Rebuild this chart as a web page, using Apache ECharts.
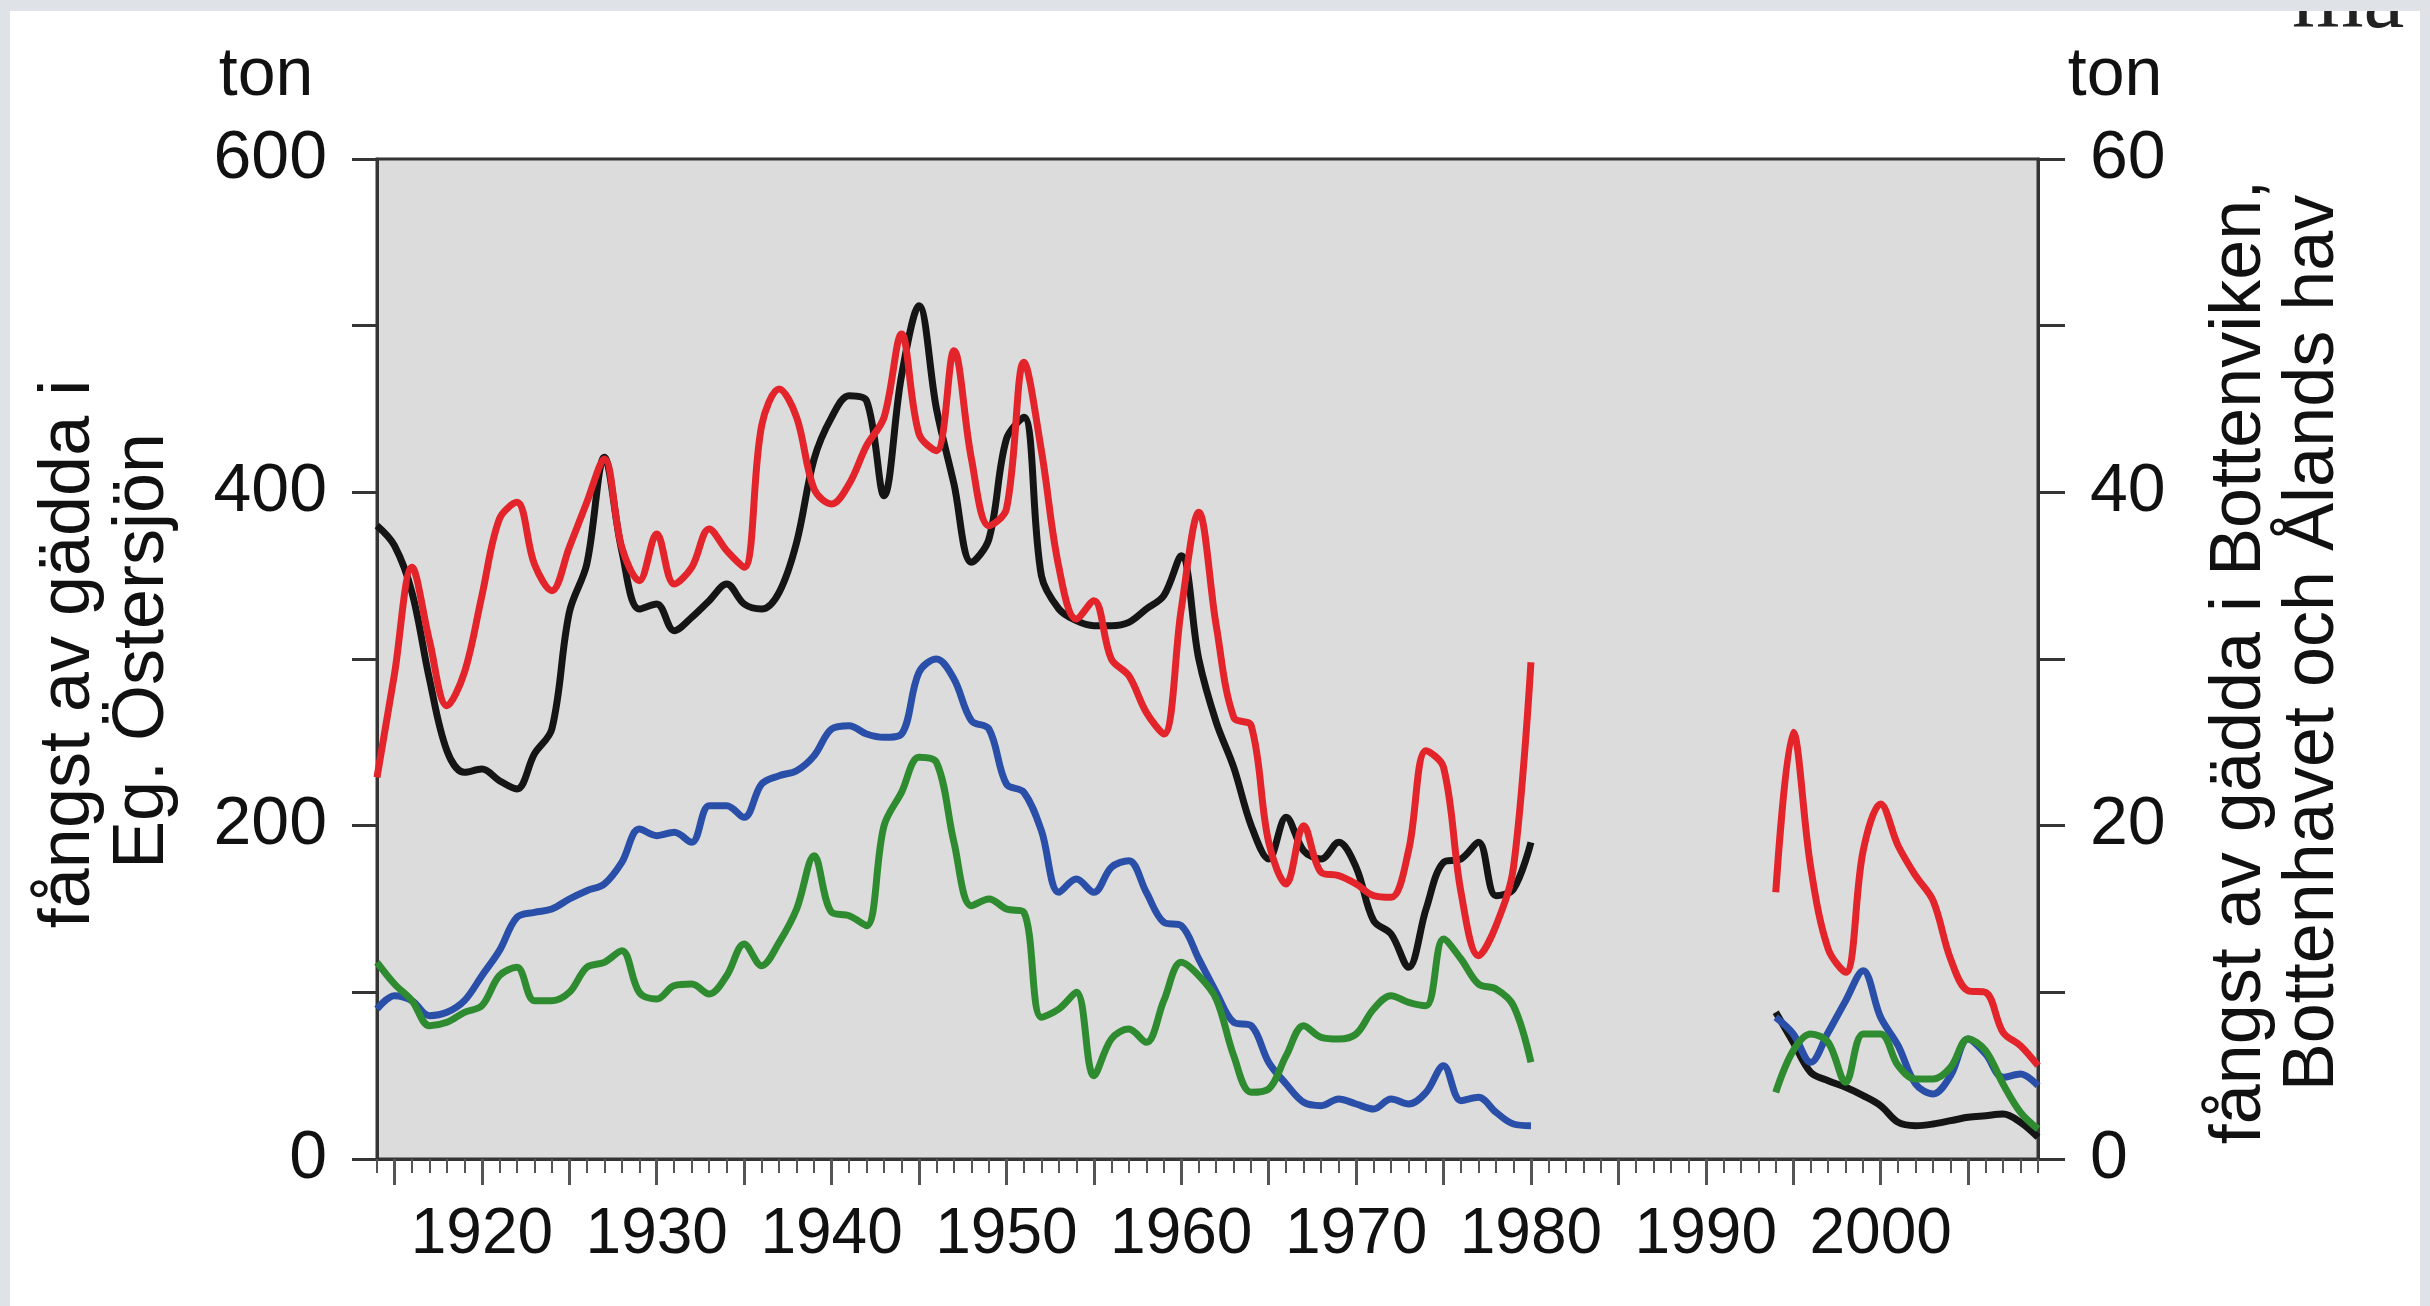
<!DOCTYPE html>
<html>
<head>
<meta charset="utf-8">
<script src="https://cdn.jsdelivr.net/npm/echarts@6/dist/echarts.min.js"></script>
<style>
  html, body { margin: 0; padding: 0; width: 2430px; height: 1306px; overflow: hidden; background: #dfe2e7; }
  #panel { position: absolute; left: 10px; top: 11px; width: 2410px; height: 1295px; background: #fff; }
  #chart { width: 2410px; height: 1295px; }
</style>
</head>
<body>
<div id="panel"><div id="chart"></div></div>
<script>
  // fångst per år, 1914-1980 och 1994-2009
  const earlyStart = 1914;
  const lateStart = 1994;

  // Eg. Östersjön (vänster axel, ton)
  const blackEarly = [380, 368, 340, 288, 245, 232, 234, 227, 222, 243, 258, 328, 357, 421, 365, 330, 333,
    317, 325, 335, 345, 333, 330, 340, 370, 420, 445, 458, 455, 398, 470, 512, 450,
    405, 358, 372, 432, 445, 350, 330, 323, 320, 320, 322, 330, 338, 362, 300, 262,
    235, 200, 180, 205, 185, 180, 190, 175, 143, 135, 115, 150, 178, 180, 190, 158, 162, 190];
  const blackLate = [88, 70, 52, 47, 43, 38, 32, 22, 20, 21, 23, 25, 26, 27, 22, 13];

  // Bottenviken, Bottenhavet, Ålands hav (höger axel, ton)
  const redEarly = [22.9, 29.1, 35.5, 31.1, 27.2, 29.2, 33.8, 38.4, 39.4, 35.7, 34.1, 36.7, 39.4, 42.0, 36.7, 34.7, 37.5,
    34.5, 35.5, 37.8, 36.5, 35.5, 44.0, 46.2, 44.5, 40.2, 39.3, 40.5, 42.8, 44.5, 49.5, 43.5, 42.5,
    48.5, 42.0, 38.0, 39.0, 47.8, 42.5, 35.5, 32.4, 33.5, 30.0, 29.0, 26.8, 25.5, 33.0, 38.8, 32.0,
    26.5, 26.0, 19.0, 16.5, 20.0, 17.2, 17.0, 16.5, 15.8, 15.7, 18.5, 24.5, 23.5, 16.0, 12.2, 14.0, 17.5, 29.8];
  const redLate = [16.0, 25.6, 17.5, 12.6, 11.2, 18.5, 21.3, 18.8, 17.0, 15.5, 12.0, 10.1, 10.0, 7.6, 6.8, 5.6];

  const blueEarly = [9.0, 9.8, 9.5, 8.6, 8.8, 9.5, 11.0, 12.5, 14.5, 14.8, 15.0, 15.6, 16.1, 16.5, 17.8, 19.8, 19.4,
    19.6, 19.0, 21.2, 21.2, 20.5, 22.5, 23.0, 23.3, 24.2, 25.8, 26.0, 25.5, 25.3, 25.5, 29.2, 30.0,
    28.8, 26.3, 25.8, 22.5, 22.0, 19.7, 16.0, 16.8, 16.0, 17.5, 17.9, 16.0, 14.2, 14.0, 12.0, 10.0,
    8.2, 8.0, 5.8, 4.5, 3.4, 3.2, 3.6, 3.3, 3.0, 3.6, 3.3, 4.0, 5.6, 3.5, 3.7, 2.8, 2.1, 2.0];
  const blueLate = [8.5, 7.5, 5.8, 7.6, 9.5, 11.3, 8.5, 6.8, 4.5, 3.9, 5.0, 7.2, 6.3, 4.9, 5.1, 4.4];

  const greenEarly = [11.8, 10.5, 9.5, 8.0, 8.2, 8.8, 9.2, 11.0, 11.5, 9.5, 9.5, 10.0, 11.5, 11.8, 12.5, 10.0, 9.6,
    10.4, 10.5, 9.9, 11.0, 12.9, 11.6, 13.0, 15.0, 18.2, 14.8, 14.6, 14.0, 20.0, 22.0, 24.1, 23.8,
    19.0, 15.2, 15.6, 15.0, 14.8, 8.5, 9.0, 10.0, 5.0, 7.2, 7.8, 7.0, 9.5, 11.8, 11.0, 9.6,
    6.2, 4.0, 4.2, 6.2, 8.0, 7.3, 7.2, 7.5, 9.0, 9.8, 9.4, 9.2, 13.2, 12.0, 10.5, 10.2, 9.2, 5.8];
  const greenLate = [4.0, 6.5, 7.5, 7.0, 4.6, 7.5, 7.5, 5.6, 4.8, 4.8, 5.5, 7.2, 6.5, 4.5, 2.8, 1.8];

  // axlar
  const xMin = 1914, xMax = 2009;
  const majorTickYears = [1915, 1920, 1925, 1930, 1935, 1940, 1945, 1950, 1955, 1960, 1965, 1970, 1975, 1980, 1985, 1990, 1995, 2000, 2005];
  const leftMax = 600, rightMax = 60;

  function toPairs(start, vals) {
    return vals.map(function (v, i) { return [start + i, v]; });
  }
  function joined(early, late) {
    // '-' bryter linjen mellan 1980 och 1994
    return toPairs(earlyStart, early).concat([[1987, '-']], toPairs(lateStart, late));
  }

  const axisColor = '#353535';
  const font = 'Liberation Sans, Arial, Helvetica, sans-serif';
  const lineW = 7;

  const chart = echarts.init(document.getElementById('chart'));
  chart.setOption({
    animation: false,
    grid: {
      left: 367, top: 148, right: 382, bottom: 147,
      show: true,
      backgroundColor: '#dcdcdc',
      borderColor: axisColor,
      borderWidth: 3
    },
    xAxis: [{
      type: 'value', min: xMin, max: xMax, interval: 1,
      position: 'bottom',
      axisLine: {show: true, onZero: false, lineStyle: {color: axisColor, width: 3}},
      axisTick: {show: true, length: 14, lineStyle: {color: '#555', width: 2}},
      axisLabel: {
        show: true, margin: 44, fontSize: 64, color: '#111', fontFamily: font,
        formatter: function (v) { return v % 10 === 0 ? String(v) : ''; }
      },
      splitLine: {show: false}
    }, {
      type: 'value', min: xMin, max: xMax,
      position: 'bottom',
      axisLine: {show: false, onZero: false},
      axisTick: {show: true, length: 26, customValues: majorTickYears, lineStyle: {color: '#555', width: 3}},
      axisLabel: {show: false},
      splitLine: {show: false}
    }],
    yAxis: [{
      type: 'value', min: 0, max: leftMax, interval: 100,
      position: 'left',
      axisLine: {show: true, onZero: false, lineStyle: {color: axisColor, width: 3}},
      axisTick: {show: true, length: 25, lineStyle: {color: axisColor, width: 3}},
      axisLabel: {
        margin: 50, fontSize: 68, color: '#111', fontFamily: font,
        formatter: function (v) { return v % 200 === 0 ? String(v) : ''; }
      },
      splitLine: {show: false}
    }, {
      type: 'value', min: 0, max: rightMax, interval: 10,
      position: 'right',
      axisLine: {show: true, onZero: false, lineStyle: {color: axisColor, width: 3}},
      axisTick: {show: true, length: 27, lineStyle: {color: axisColor, width: 3}},
      axisLabel: {
        margin: 52, fontSize: 68, color: '#111', fontFamily: font,
        formatter: function (v) { return v % 20 === 0 ? String(v) : ''; }
      },
      splitLine: {show: false}
    }],
    series: [
      {name: 'Eg. Östersjön', type: 'line', yAxisIndex: 0, data: joined(blackEarly, blackLate),
        smooth: 0.35, showSymbol: false, symbol: 'none', lineStyle: {color: '#151515', width: lineW}},
      {name: 'Bottenviken', type: 'line', yAxisIndex: 1, data: joined(redEarly, redLate),
        smooth: 0.35, showSymbol: false, symbol: 'none', lineStyle: {color: '#e3242b', width: lineW}},
      {name: 'Bottenhavet', type: 'line', yAxisIndex: 1, data: joined(blueEarly, blueLate),
        smooth: 0.35, showSymbol: false, symbol: 'none', lineStyle: {color: '#2a4fa8', width: lineW}},
      {name: 'Ålands hav', type: 'line', yAxisIndex: 1, data: joined(greenEarly, greenLate),
        smooth: 0.35, showSymbol: false, symbol: 'none', lineStyle: {color: '#2e8b30', width: lineW}}
    ],
    graphic: [
      {type: 'text', x: 256, y: 65, style: {text: 'ton', fontSize: 68, fontFamily: font, fill: '#111', align: 'center', verticalAlign: 'middle'}},
      {type: 'text', x: 2105, y: 65, style: {text: 'ton', fontSize: 68, fontFamily: font, fill: '#111', align: 'center', verticalAlign: 'middle'}},
      {type: 'text', x: 59, y: 643, rotation: Math.PI / 2,
        style: {text: 'fångst av gädda i', fontSize: 72, fontFamily: font, fill: '#111', align: 'center', verticalAlign: 'middle'}},
      {type: 'text', x: 133, y: 640, rotation: Math.PI / 2,
        style: {text: 'Eg. Östersjön', fontSize: 72, fontFamily: font, fill: '#111', align: 'center', verticalAlign: 'middle'}},
      {type: 'text', x: 2230, y: 651, rotation: Math.PI / 2,
        style: {text: 'fångst av gädda i Bottenviken,', fontSize: 72, fontFamily: font, fill: '#111', align: 'center', verticalAlign: 'middle'}},
      {type: 'text', x: 2303, y: 632, rotation: Math.PI / 2,
        style: {text: 'Bottenhavet och Ålands hav', fontSize: 72, fontFamily: font, fill: '#111', align: 'center', verticalAlign: 'middle'}},
      {type: 'text', x: 2282, y: 38,
        style: {text: 'ma', fontSize: 92, fontFamily: 'Liberation Serif, serif', fill: '#222', align: 'left', verticalAlign: 'bottom'}}
    ]
  });
</script>
</body>
</html>
